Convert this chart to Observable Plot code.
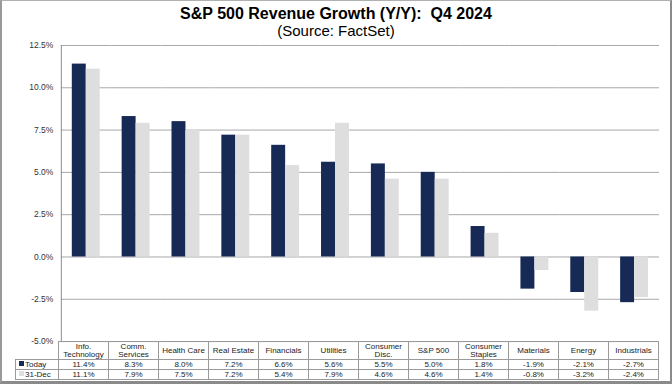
<!DOCTYPE html>
<html>
<head>
<meta charset="utf-8">
<script src="https://cdn.jsdelivr.net/npm/d3@7"></script>
<script src="https://cdn.jsdelivr.net/npm/@observablehq/plot@0.6"></script>
<style>
  html, body { margin: 0; padding: 0; background: #fff; }
  #wrap { position: relative; width: 672px; height: 384px; box-sizing: border-box;
          border-left: 2px solid #9a9a9a; border-top: 1px solid #b0b0b0;
          border-right: 2px solid #8a8a8a; border-bottom: 3px solid #8a8a8a;
          font-family: "Liberation Sans", Arial, sans-serif; overflow: hidden; }
  #title { position: absolute; left: -2px; top: 5px; width: 672px; text-align: center;
           font-weight: bold; font-size: 16px; line-height: 16px; color: #000; }
  #subtitle { position: absolute; left: -2px; top: 22px; width: 672px; text-align: center;
              font-size: 15px; line-height: 15px; color: #000; }
  #chart { position: absolute; left: -2px; top: 37px; }
  #tbl { position: absolute; left: 13px; top: 340px; border-collapse: collapse; table-layout: fixed;
         font-size: 8px; color: #222; }
  #tbl td { border: 1px solid #9a9a9a; padding: 0; text-align: center; overflow: hidden; white-space: nowrap; }
  #tbl tr.head td { height: 17px; line-height: 8px; }
  #tbl tr.row td { height: 9px; line-height: 9px; }
  #tbl td.legend { text-align: left; padding-left: 3px; }
  #tbl td.blank { border: none; }
  .sw { display: inline-block; width: 5px; height: 5px; margin-right: 1px; vertical-align: 1px; }
</style>
</head>
<body>
<div id="wrap">
  <div id="title">S&amp;P 500 Revenue Growth (Y/Y):&nbsp; Q4 2024</div>
  <div id="subtitle">(Source: FactSet)</div>
  <div id="chart"></div>
  <table id="tbl"></table>
</div>
<script>
const categories = ["Info.\nTechnology", "Comm.\nServices", "Health Care", "Real Estate", "Financials",
  "Utilities", "Consumer\nDisc.", "S&P 500", "Consumer\nStaples", "Materials", "Energy", "Industrials"];
const seriesNames = ["Today", "31-Dec"];
const today = [11.4, 8.3, 8.0, 7.2, 6.6, 5.6, 5.5, 5.0, 1.8, -1.9, -2.1, -2.7];
const dec31 = [11.1, 7.9, 7.5, 7.2, 5.4, 7.9, 4.6, 4.6, 1.4, -0.8, -3.2, -2.4];
const yTicks = [-5, -2.5, 0, 2.5, 5, 7.5, 10, 12.5];
const colors = ["#172a56", "#dedede"];

const data = categories.flatMap((c, i) => [
  {cat: c, series: seriesNames[0], value: today[i]},
  {cat: c, series: seriesNames[1], value: dec31[i]}
]);

const fmt = d => d.toFixed(1) + "%";

const plot = Plot.plot({
  width: 672,
  height: 310,
  marginTop: 7,
  marginBottom: 6,
  marginLeft: 60,
  marginRight: 11,
  style: {fontFamily: "Liberation Sans, Arial, sans-serif", overflow: "visible", background: "transparent"},
  fx: {domain: categories, padding: 0, axis: null, label: null},
  x: {domain: seriesNames, paddingInner: 0, paddingOuter: 0.73, axis: null},
  y: {domain: [-5, 12.5], axis: null},
  color: {domain: seriesNames, range: colors},
  marks: [
    Plot.ruleY(yTicks, {stroke: "#a8a8a8", strokeWidth: 1}),
    Plot.barY(data, {fx: "cat", x: "series", y: "value", fill: "series"}),
    Plot.axisY(yTicks, {tickSize: 0, tickPadding: 8, tickFormat: fmt, fontSize: 8.5, fill: "#333", label: null}),
    Plot.frame({anchor: "left", stroke: "#8c8c8c", facetAnchor: "left"})
  ]
});
document.getElementById("chart").appendChild(plot);

// data table aligned with the fx band scale
const fx = plot.scale("fx");
const step = fx.step !== undefined ? fx.step : fx.bandwidth;
const tbl = document.getElementById("tbl");
const firstW = 60 - 2 - 13 - 2;
let html = '<colgroup><col style="width:' + firstW + 'px">' +
  categories.map(() => '<col style="width:' + step + 'px">').join("") + '</colgroup>';
html += '<tr class="head"><td class="blank"></td>' +
  categories.map(c => '<td>' + c.replace(/&/g, "&amp;").replace("\n", "<br>") + '</td>').join("") + '</tr>';
const rows = [today, dec31];
rows.forEach((vals, r) => {
  html += '<tr class="row"><td class="legend"><span class="sw" style="background:' + colors[r] + '"></span>' +
    seriesNames[r] + '</td>' + vals.map(v => '<td>' + fmt(v) + '</td>').join("") + '</tr>';
});
tbl.innerHTML = html;
</script>
</body>
</html>
